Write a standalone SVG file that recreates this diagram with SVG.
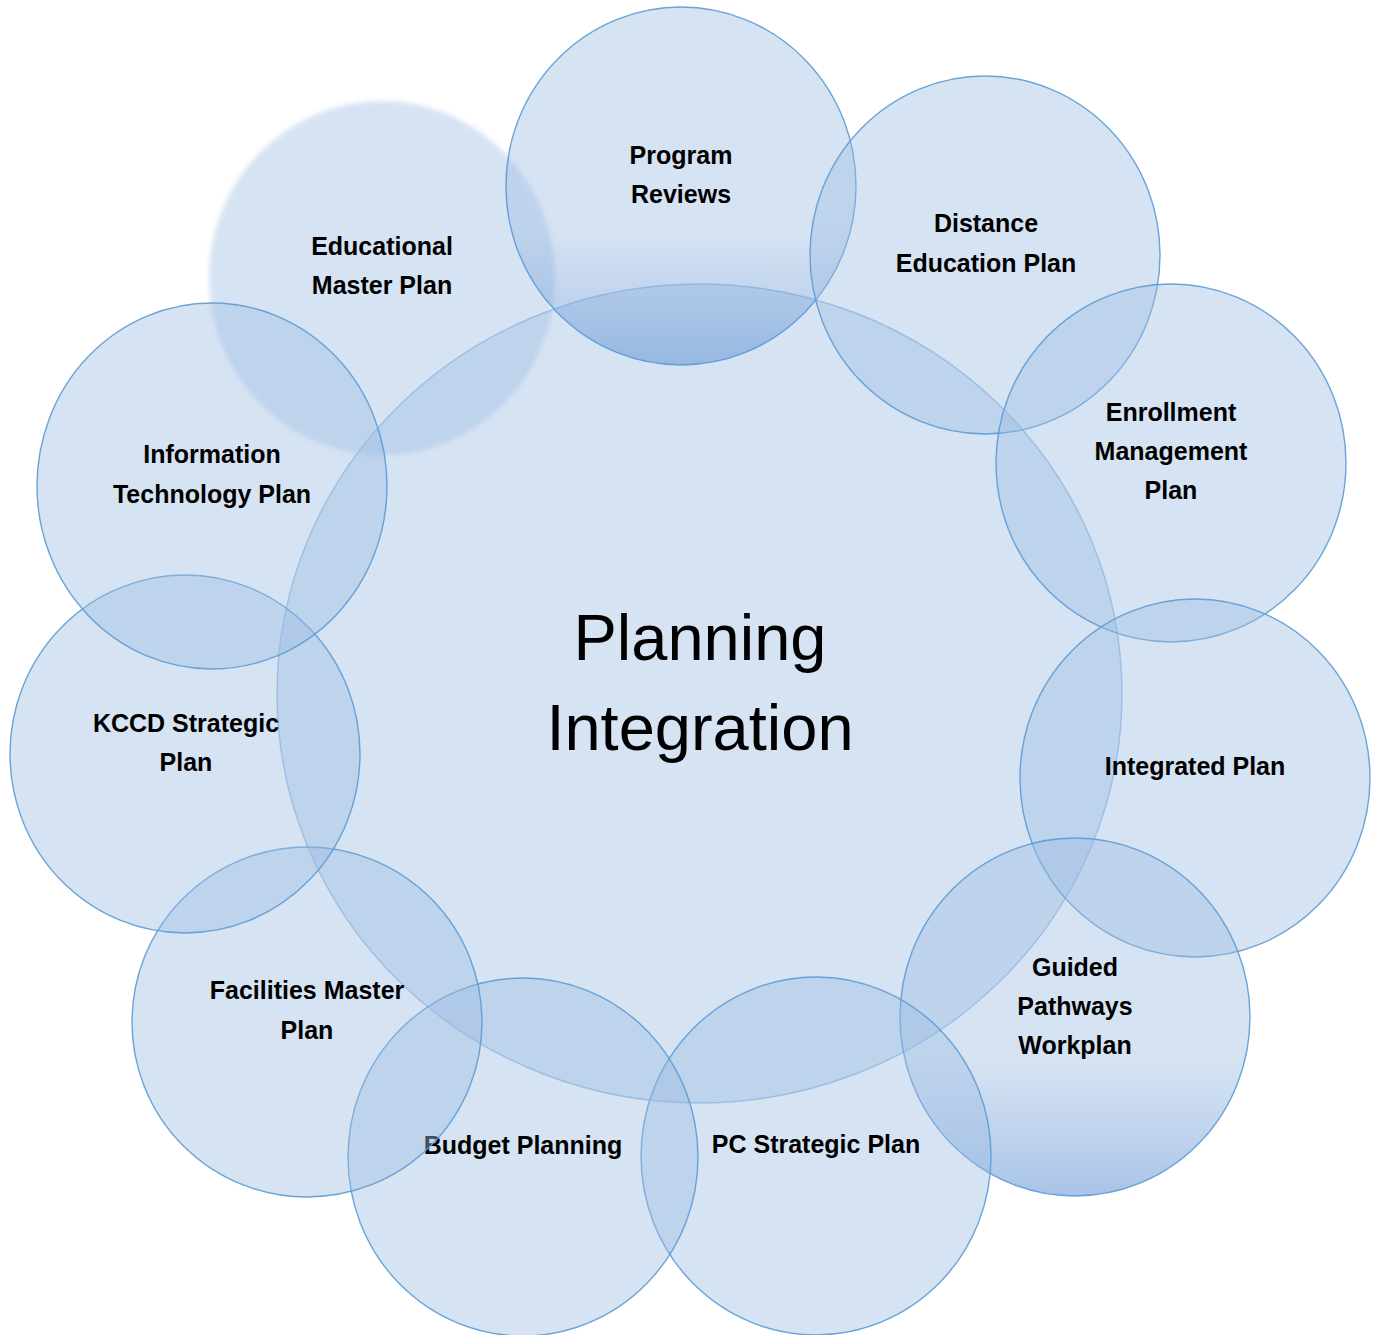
<svg xmlns="http://www.w3.org/2000/svg" width="1374" height="1335" viewBox="0 0 1374 1335">
<style>
.c{fill:rgb(156,187,226);fill-opacity:0.415;stroke:#5b9bd5;stroke-width:1.4;stroke-opacity:0.9}
.g{fill:url(#grad);stroke:#5b9bd5;stroke-width:1.4;stroke-opacity:0.9}
.main{fill:rgb(156,187,226);fill-opacity:0.415;stroke:#5b9bd5;stroke-width:1.4;stroke-opacity:0.55}
.t{font-family:"Liberation Sans",Arial,sans-serif;font-weight:bold;font-size:25px;fill:#000;text-anchor:middle}
.big{font-family:"Liberation Sans",Arial,sans-serif;font-size:65px;fill:#000;text-anchor:middle}
</style>
<defs>
<linearGradient id="grad" x1="0" y1="0" x2="0" y2="1">
<stop offset="0" stop-color="rgb(156,187,226)" stop-opacity="0.415"/>
<stop offset="0.62" stop-color="rgb(156,187,226)" stop-opacity="0.415"/>
<stop offset="1" stop-color="rgb(110,155,215)" stop-opacity="0.6"/>
</linearGradient>
<filter id="soft" x="-10%" y="-10%" width="120%" height="120%">
<feGaussianBlur stdDeviation="2.8"/>
</filter>
</defs>
<rect width="1374" height="1335" fill="#fff"/>
<g id="center">
<ellipse class="main" cx="699.5" cy="693.5" rx="422.5" ry="409.5"/>
</g>
<g id="edu-master">
<ellipse cx="382" cy="278" rx="173" ry="177" fill="rgb(156,187,226)" fill-opacity="0.415" filter="url(#soft)"/>
<text class="t" x="382" y="255">Educational</text>
<text class="t" x="382" y="294">Master Plan</text>
</g>
<g id="program-reviews">
<ellipse class="g" cx="681" cy="186" rx="175" ry="179"/>
<text class="t" x="681" y="164">Program</text>
<text class="t" x="681" y="203">Reviews</text>
</g>
<g id="distance-ed">
<ellipse class="c" cx="985" cy="255" rx="175" ry="179"/>
<text class="t" x="986" y="232">Distance</text>
<text class="t" x="986" y="272">Education Plan</text>
</g>
<g id="enrollment">
<ellipse class="c" cx="1171" cy="463" rx="175" ry="179"/>
<text class="t" x="1171" y="421">Enrollment</text>
<text class="t" x="1171" y="460">Management</text>
<text class="t" x="1171" y="499">Plan</text>
</g>
<g id="integrated">
<ellipse class="c" cx="1195" cy="778" rx="175" ry="179"/>
<text class="t" x="1195" y="775">Integrated Plan</text>
</g>
<g id="guided">
<ellipse class="g" cx="1075" cy="1017" rx="175" ry="179"/>
<text class="t" x="1075" y="976">Guided</text>
<text class="t" x="1075" y="1015">Pathways</text>
<text class="t" x="1075" y="1054">Workplan</text>
</g>
<g id="pc-strategic">
<ellipse class="c" cx="816" cy="1156" rx="175" ry="179"/>
<text class="t" x="816" y="1153">PC Strategic Plan</text>
</g>
<g id="budget">
<ellipse class="c" cx="523" cy="1157" rx="175" ry="179"/>
<text class="t" x="523" y="1154">Budget Planning</text>
</g>
<g id="facilities">
<ellipse class="c" cx="307" cy="1022" rx="175" ry="175"/>
<text class="t" x="307" y="999">Facilities Master</text>
<text class="t" x="307" y="1039">Plan</text>
</g>
<g id="kccd">
<ellipse class="c" cx="185" cy="754" rx="175" ry="179"/>
<text class="t" x="186" y="732">KCCD Strategic</text>
<text class="t" x="186" y="771">Plan</text>
</g>
<g id="info-tech">
<ellipse class="c" cx="212" cy="486" rx="175" ry="183"/>
<text class="t" x="212" y="463">Information</text>
<text class="t" x="212" y="503">Technology Plan</text>
</g>
<g id="center-label">
<text class="big" x="700" y="660">Planning</text>
<text class="big" x="700" y="750">Integration</text>
</g>
<g id="connectors"/>
</svg>
